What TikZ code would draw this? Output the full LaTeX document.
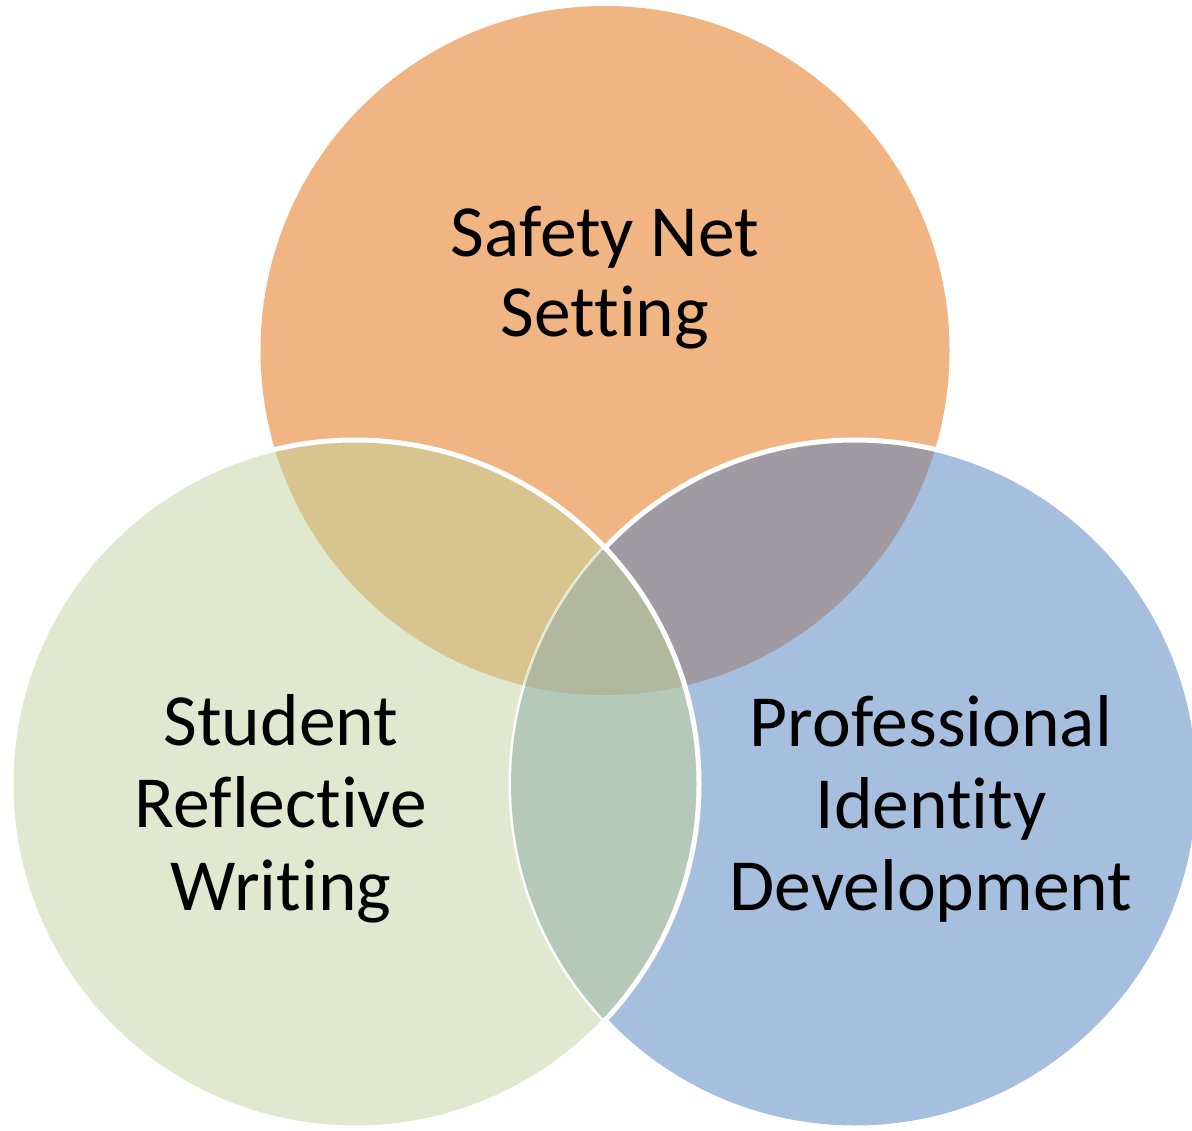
\documentclass[tikz,border=0pt]{standalone}
\usepackage{fontspec}
\newfontfamily\calib[Ligatures={NoCommon,NoContextual}]{Carlito}
\definecolor{cOrange}{HTML}{F1B483}
\definecolor{cGreen}{HTML}{E0E9CF}
\definecolor{cBlue}{HTML}{A7BFDE}
\definecolor{cTan}{HTML}{D8C48F}
\definecolor{cGrey}{HTML}{A09BA2}
\definecolor{cBlueGreen}{HTML}{B4C9BA}
\definecolor{cCenter}{HTML}{B1B89E}
\tikzset{
  lbl/.style={anchor=base, inner sep=0pt, text=black, font=\calib\fontsize{73.5}{82}\selectfont},
  outl/.style={draw=white, line width=5pt}
}
\begin{document}
\begin{tikzpicture}[x=1pt,y=-1pt]
\useasboundingbox (0,0) rectangle (1192,1131);
\clip (0,0) rectangle (1192,1131);
\def\R{344.5}
\def\S{344}
\coordinate (O) at (605,350.5);
\coordinate (G) at (355,784);
\coordinate (B) at (855,784);
% base fills
\fill[cOrange] (O) circle (\R);
\fill[cGreen] (G) circle (\S);
\fill[cBlue] (B) circle (\S);
% pairwise overlaps
\begin{scope}
  \clip (O) circle (\R);
  \fill[cTan] (G) circle (\S);
  \fill[cGrey] (B) circle (\S);
\end{scope}
\begin{scope}
  \clip (G) circle (\S);
  \fill[cBlueGreen] (B) circle (\S);
  \clip (B) circle (\S);
  \fill[cCenter] (O) circle (\R);
\end{scope}
% outlines
\draw[outl] (B) circle (\S);
\begin{scope}
  \clip (G) circle (\S);
  \fill[cBlueGreen] (B) circle (\S);
  \clip (B) circle (\S);
  \fill[cCenter] (O) circle (\R);
\end{scope}
\begin{scope}
  \clip (G) circle (\S);
  \clip (O) circle (\R);
  \draw[draw=cGreen, line width=4pt] (B) circle (\S);
  \clip (B) circle (\S);
  \fill[cCenter] (O) circle (\R);
\end{scope}
\draw[outl] (G) circle (\S);
% labels
\node[lbl] (t1) at (605,257) {Safety Net};
\node[lbl] (t2) at (605,337) {Setting};
\node[lbl] (l1) at (281,745) {Student};
\node[lbl] (l2) at (281,827) {Reflective};
\node[lbl] (l3) at (281,910) {Writing};
\node[lbl] (r1) at (931,746) {Professional};
\node[lbl] (r2) at (931,828) {Identity};
\node[lbl] (r3) at (931,910) {Development};
\end{tikzpicture}
\end{document}
